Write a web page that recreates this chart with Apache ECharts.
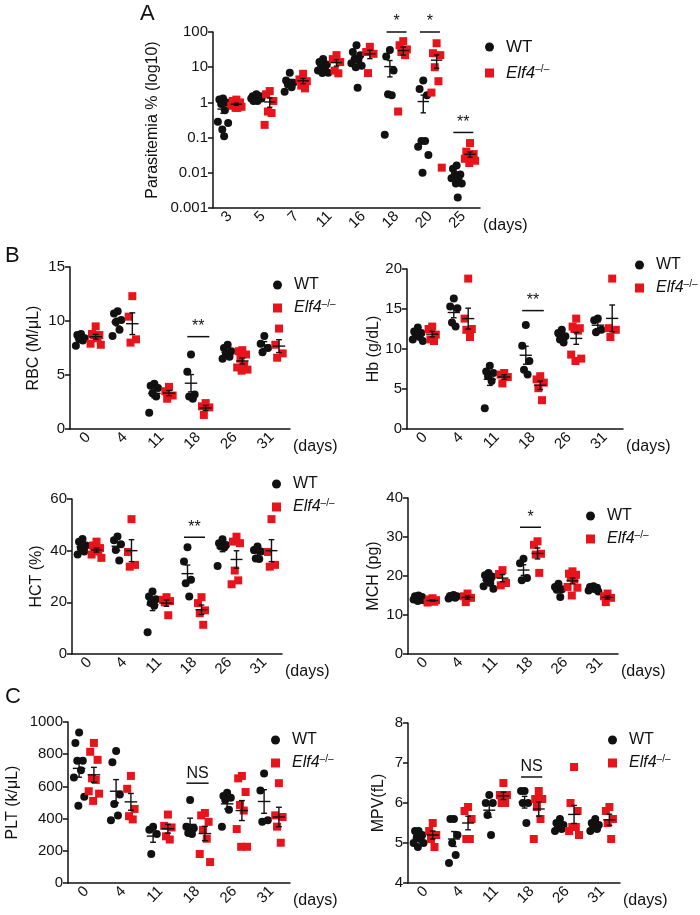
<!DOCTYPE html>
<html>
<head>
<meta charset="utf-8">
<script src="https://cdn.jsdelivr.net/npm/echarts@6/dist/echarts.min.js"></script>
<style>
  html, body { margin: 0; padding: 0; background: #fff; }
  #chart { width: 700px; height: 915px; }
</style>
</head>
<body>
<div id="chart"></div>
<script>
// categories
const daysA = ['3', '5', '7', '11', '16', '18', '20', '25'];
const daysB = ['0', '4', '11', '18', '26', '31'];
const ticksA = ['0.001', '0.01', '0.1', '1', '10', '100'];

// parasitemia (%)
const wtA = [
  [1.3, 1.2, 1.0, 0.9, 0.6, 0.28, 0.26, 0.17, 0.11],
  [1.7, 1.5, 1.5, 1.4, 1.4, 1.3, 1.3, 1.2, 1.1, 1.1],
  [7, 4.2, 3.6, 3.2, 2.7, 2.0],
  [17, 14, 12, 11, 10, 8, 7, 6.8],
  [42, 27, 22, 17, 16, 13, 11, 10, 2.6],
  [31, 20, 8, 1.7, 1.6, 0.12],
  [4.2, 2.4, 1.6, 0.08, 0.08, 0.055, 0.032, 0.01],
  [0.016, 0.013, 0.009, 0.009, 0.007, 0.007, 0.005, 0.005, 0.002]
];
const koA = [
  [1.2, 1.1, 1.0, 0.9, 0.85, 0.8, 0.75, 0.7, 0.7],
  [2.1, 1.7, 1.1, 0.55, 0.5, 0.23],
  [6.5, 4.5, 4, 3, 2.5],
  [22, 17, 14, 8, 6.7],
  [38, 27, 24, 6.8],
  [55, 42, 32, 27, 22, 0.55],
  [48, 25, 22, 10, 4, 1.9, 0.014],
  [0.07, 0.04, 0.034, 0.03, 0.028, 0.025, 0.022, 0.019]
];

// RBC (M/uL)
const wtRBC = [[8.8, 8.7, 8.4, 8.3, 8.2, 7.7], [10.9, 10.7, 10.1, 9.9, 9.2, 8.6], [4.2, 4.0, 3.8, 3.3, 3.0, 1.5],
  [6.9, 5.3, 3.2, 3.0, 2.8], [7.8, 7.5, 7.2, 6.9, 6.7, 6.5], [8.6, 7.9, 7.5, 7.1]];
const koRBC = [[9.5, 8.8, 8.7, 8.7, 8.4, 7.9, 7.8], [12.3, 10.4, 8.3, 8.0], [3.9, 3.5, 3.1, 2.8],
  [2.4, 2.1, 2.0, 1.3], [7.3, 7.2, 6.9, 6.5, 5.9, 5.7, 5.5, 5.4], [9.3, 7.8, 7.0, 6.6]];

// Hb (g/dL)
const wtHb = [[12.7, 12.2, 12.0, 11.8, 11.5, 11.2, 11.0], [16.3, 15.3, 15.1, 13.3, 12.8], [7.9, 7.2, 7.0, 6.6, 6.0, 2.6],
  [13.0, 10.4, 8.5, 7.4, 6.8], [12.4, 12.0, 11.6, 11.2, 10.8], [13.8, 13.6, 12.4, 12.1]];
const koHb = [[12.8, 12.5, 11.8, 11.2, 11.0], [18.8, 13.8, 12.5, 12.4, 11.5], [7.0, 6.8, 6.5, 5.7],
  [6.6, 6.2, 5.8, 5.1, 3.6], [13.8, 12.8, 12.6, 12.5, 12.3, 9.3, 8.8, 8.5], [18.8, 12.6, 12.4, 11.5]];

// HCT (%)
const wtHCT = [[44.5, 43.5, 42, 41, 39.7, 38.5], [45.5, 44, 42.5, 40.3, 36.2], [24.2, 22.3, 21.2, 19.7, 18.7, 8.4],
  [41.3, 35.8, 28.7, 27.4, 22.3], [44.4, 42.9, 42.2, 41.6, 41.2, 34.1], [41.6, 40.3, 39.7, 37, 36.8]];
const koHCT = [[43.5, 42, 41, 40, 39.7, 38.5, 37.2], [52.2, 39.5, 34.5, 33.8], [22, 21, 20.5, 20, 15],
  [22, 19.7, 16.9, 15.8, 11.3], [45.4, 43.5, 42.9, 32.3, 28.5, 27], [52.2, 39.5, 34.5, 33.8]];

// MCH (pg)
const wtMCH = [[15.0, 14.8, 14.6, 14.4, 14.2, 14.0, 13.8, 13.6], [15.1, 14.9, 14.8, 14.6, 14.4, 14.2],
  [20.8, 20.2, 19.9, 19.1, 18.2, 17.4, 16.7], [24.4, 23.3, 19.5, 18.9], [18, 17.2, 16.6, 16.5, 14.6],
  [17.4, 17.2, 17.0, 16.8, 16.6, 16.3, 16.0]];
const koMCH = [[14.3, 14.0, 13.8, 13.6, 13.4, 13.2], [15.5, 14.8, 14.4, 13.3], [21.5, 20.5, 18.2, 17.6],
  [28.9, 28.0, 25.7, 25.5, 20.8], [21.2, 20.6, 20.3, 19.6, 19.1, 17.2, 17.0, 15.0], [15.5, 14.8, 14.4, 13.3]];

// PLT (k/uL)
const wtPLT = [[935, 870, 760, 760, 700, 655, 535, 480], [820, 750, 550, 490, 420, 390], [350, 330, 305, 180],
  [515, 350, 340, 310, 305], [560, 540, 530, 515, 455, 350], [680, 575, 390, 380]];
const koPLT = [[870, 815, 765, 650, 640, 570, 555, 510], [665, 585, 460, 415, 395], [425, 355, 345, 290, 270],
  [435, 420, 380, 330, 275, 180, 130], [665, 650, 565, 485, 450, 335, 225, 225], [620, 420, 410, 350, 250]];

// MPV (fL)
const wtMPV = [[5.3, 5.3, 5.2, 5.15, 5.1, 5.0, 5.0, 4.9], [5.6, 5.6, 5.2, 5.0, 4.7, 4.5], [6.2, 6.0, 6.0, 5.7, 5.2],
  [6.3, 6.3, 6.0, 6.0, 5.5], [5.6, 5.5, 5.45, 5.4, 5.35, 5.3], [5.6, 5.5, 5.45, 5.4, 5.35, 5.3]];
const koMPV = [[5.5, 5.3, 5.2, 5.1, 4.9], [5.9, 5.8, 5.6, 5.1, 5.1], [6.5, 6.2, 6.2, 6.0, 6.0],
  [6.3, 6.1, 6.1, 5.9, 5.6, 5.1], [6.9, 6.0, 5.8, 5.4, 5.4, 5.3, 5.2], [5.9, 5.8, 5.6, 5.5, 5.1]];

// significance marks: [day, y, text]
const sigA = [['18', 100, '*'], ['20', 100, '*'], ['25', 0.14, '**']];
const sigRBC = [['18', 8.55, '**']];
const sigHb = [['18', 14.8, '**']];
const sigHCT = [['18', 45.2, '**']];
const sigMCH = [['18', 32.5, '*']];
const sigPLT = [['18', 620, 'NS']];
const sigMPV = [['18', 6.65, 'NS']];

const FONT = '"Liberation Sans", Arial, sans-serif';
const INK = '#111';
const RED = '#e8141c';

const panels = [
  { cats: daysA, wt: wtA, ko: koA, sig: sigA, name: 'Parasitemia % (log10)', log: true, min: 0.001, max: 100,
    grid: { left: 213, top: 32, width: 267, height: 176 }, nameGap: 52, legend: { left: 480, top: 33 }, legendGap: 8, spread: 0.11 },
  { cats: daysB, wt: wtRBC, ko: koRBC, sig: sigRBC, name: 'RBC (M/μL)', min: 0, max: 15, interval: 5,
    grid: { left: 70, top: 267, width: 220, height: 162 }, nameGap: 28, legend: { left: 268, top: 271 } },
  { cats: daysB, wt: wtHb, ko: koHb, sig: sigHb, name: 'Hb (g/dL)', min: 0, max: 20, interval: 5,
    grid: { left: 407, top: 269, width: 216, height: 160 }, nameGap: 25, legend: { left: 630, top: 251 } },
  { cats: daysB, wt: wtHCT, ko: koHCT, sig: sigHCT, name: 'HCT (%)', min: 0, max: 60, interval: 20,
    grid: { left: 72, top: 499, width: 210, height: 155 }, nameGap: 27, legend: { left: 267, top: 470 } },
  { cats: daysB, wt: wtMCH, ko: koMCH, sig: sigMCH, name: 'MCH (pg)', min: 0, max: 40, interval: 10,
    grid: { left: 408, top: 498, width: 210, height: 156 }, nameGap: 26, legend: { left: 581, top: 502 } },
  { cats: daysB, wt: wtPLT, ko: koPLT, sig: sigPLT, name: 'PLT (k/μL)', min: 0, max: 1000, interval: 200,
    grid: { left: 68, top: 722, width: 222, height: 161 }, nameGap: 47, legend: { left: 266, top: 726 } },
  { cats: daysB, wt: wtMPV, ko: koMPV, sig: sigMPV, name: 'MPV(fL)', min: 4, max: 8, interval: 1,
    grid: { left: 408, top: 723, width: 212, height: 160 }, nameGap: 21, legend: { left: 603, top: 726 } }
];

const jit = [0, -1, 1, -0.5, 0.5, -1.4, 1.4, -0.2, 0.3, -0.8, 0.8];

function place(groups, shift, spread) {
  const pts = [];
  groups.forEach((vals, i) => {
    vals.forEach((v, k) => pts.push([i + shift + jit[k % jit.length] * spread, v]));
  });
  return pts;
}

function stats(groups, shift, floor) {
  return groups.map((a, i) => {
    const n = a.length;
    const m = a.reduce((s, v) => s + v, 0) / n;
    const sd = Math.sqrt(a.reduce((s, v) => s + (v - m) * (v - m), 0) / (n - 1));
    const se = sd / Math.sqrt(n);
    return [i + shift, m, Math.max(m - se, floor), m + se];
  });
}

function errRender(params, api) {
  const x = api.value(0);
  const pm = api.coord([x, api.value(1)]);
  const pl = api.coord([x, api.value(2)]);
  const ph = api.coord([x, api.value(3)]);
  const unit = api.coord([x + 1, api.value(1)])[0] - pm[0];
  const half = unit * 0.17, cap = unit * 0.08;
  const st = { stroke: INK, lineWidth: 1.4 };
  return {
    type: 'group',
    children: [
      { type: 'line', shape: { x1: pm[0] - half, y1: pm[1], x2: pm[0] + half, y2: pm[1] }, style: st },
      { type: 'line', shape: { x1: pm[0], y1: pl[1], x2: pm[0], y2: ph[1] }, style: st },
      { type: 'line', shape: { x1: pm[0] - cap, y1: ph[1], x2: pm[0] + cap, y2: ph[1] }, style: st },
      { type: 'line', shape: { x1: pm[0] - cap, y1: pl[1], x2: pm[0] + cap, y2: pl[1] }, style: st }
    ]
  };
}

function sigRender(marks) {
  return (params, api) => {
    const i = api.value(0), y = api.value(1);
    const a = api.coord([i - 0.3, y]), b = api.coord([i + 0.3, y]);
    return {
      type: 'group',
      children: [
        { type: 'line', shape: { x1: a[0], y1: a[1], x2: b[0], y2: b[1] }, style: { stroke: INK, lineWidth: 1.5 } },
        { type: 'text', style: { x: (a[0] + b[0]) / 2, y: a[1] - 2, text: marks[params.dataIndex][2], fill: INK,
          fontSize: 16, fontFamily: FONT, align: 'center', verticalAlign: 'bottom' } }
      ]
    };
  };
}

const grids = [], xAxes = [], yAxes = [], series = [], legends = [];

panels.forEach((p, k) => {
  grids.push(Object.assign({ outerBoundsMode: 'none' }, p.grid));
  xAxes.push({
    type: 'category', gridIndex: k, data: p.cats, boundaryGap: true,
    axisLine: { onZero: false, lineStyle: { color: INK, width: 1.5 } },
    axisTick: { alignWithLabel: true, length: 5, lineStyle: { color: INK, width: 1.5 } },
    axisLabel: { rotate: 45, fontSize: 15, color: INK, fontFamily: FONT, margin: 6 },
    name: '(days)', nameLocation: 'end', nameGap: 3,
    nameTextStyle: { fontSize: 16, color: INK, fontFamily: FONT, verticalAlign: 'top', padding: [10, 0, 0, 0] }
  });
  xAxes.push({ type: 'value', gridIndex: k, min: -0.5, max: p.cats.length - 0.5, show: false });
  const y = {
    type: p.log ? 'log' : 'value', gridIndex: k, min: p.min, max: p.max,
    splitLine: { show: false },
    axisLine: { show: true, onZero: false, lineStyle: { color: INK, width: 1.5 } },
    axisTick: { show: true, length: 5, lineStyle: { color: INK, width: 1.5 } },
    axisLabel: { fontSize: 15, color: INK, fontFamily: FONT, margin: 5 },
    name: p.name, nameLocation: 'middle', nameGap: p.nameGap,
    nameTextStyle: { fontSize: 16, color: INK, fontFamily: FONT }
  };
  if (p.log) {
    y.logBase = 10;
    y.axisLabel.formatter = v => ticksA[Math.round(Math.log10(v)) + 3];
  } else {
    y.interval = p.interval;
    y.axisLabel.formatter = v => String(v);
  }
  yAxes.push(y);

  const spread = p.spread || 0.1;
  const floor = p.log ? p.min : -Infinity;
  series.push({ type: 'scatter', name: 'WT', xAxisIndex: 2 * k + 1, yAxisIndex: k, symbol: 'circle', symbolSize: 8,
    itemStyle: { color: INK, opacity: 1 }, data: place(p.wt, -0.2, spread), z: 3 });
  series.push({ type: 'scatter', name: 'Elf4', xAxisIndex: 2 * k + 1, yAxisIndex: k, symbol: 'rect', symbolSize: 8,
    itemStyle: { color: RED, opacity: 1 }, data: place(p.ko, 0.2, spread), z: 3 });
  series.push({ type: 'custom', xAxisIndex: 2 * k + 1, yAxisIndex: k, renderItem: errRender, silent: true, z: 5,
    encode: { x: 0, y: 1 }, data: stats(p.wt, -0.2, floor).concat(stats(p.ko, 0.2, floor)) });
  series.push({ type: 'custom', xAxisIndex: 2 * k + 1, yAxisIndex: k, renderItem: sigRender(p.sig), silent: true, z: 5,
    encode: { x: 0, y: 1 }, clip: false, data: p.sig.map(s => [p.cats.indexOf(s[0]), s[1]]) });

  legends.push({
    left: p.legend.left, top: p.legend.top, orient: 'vertical', selectedMode: false,
    itemWidth: 9, itemHeight: 9, itemGap: p.legendGap || 5,
    itemStyle: { opacity: 1 },
    data: [{ name: 'WT', icon: 'circle' }, { name: 'Elf4', icon: 'rect' }],
    formatter: n => n === 'Elf4' ? '{i|Elf4}{s|–/–}' : n,
    textStyle: {
      fontSize: k === 0 ? 17 : 16, color: INK, fontFamily: FONT, padding: [0, 0, 0, 7], lineHeight: 18,
      rich: {
        i: { fontStyle: 'italic', fontSize: k === 0 ? 17 : 16, color: INK, fontFamily: FONT, lineHeight: 18 },
        s: { fontSize: 10, color: INK, fontFamily: FONT, verticalAlign: 'top', lineHeight: 18 }
      }
    }
  });
});

const chart = echarts.init(document.getElementById('chart'));
chart.setOption({
  animation: false,
  backgroundColor: '#fff',
  textStyle: { fontFamily: FONT },
  grid: grids,
  xAxis: xAxes,
  yAxis: yAxes,
  legend: legends,
  series: series,
  graphic: [
    { type: 'text', left: 140, top: 3, style: { text: 'A', fontSize: 22, fill: INK, fontFamily: FONT } },
    { type: 'text', left: 5, top: 245, style: { text: 'B', fontSize: 22, fill: INK, fontFamily: FONT } },
    { type: 'text', left: 5, top: 686, style: { text: 'C', fontSize: 22, fill: INK, fontFamily: FONT } }
  ]
});
</script>
</body>
</html>
